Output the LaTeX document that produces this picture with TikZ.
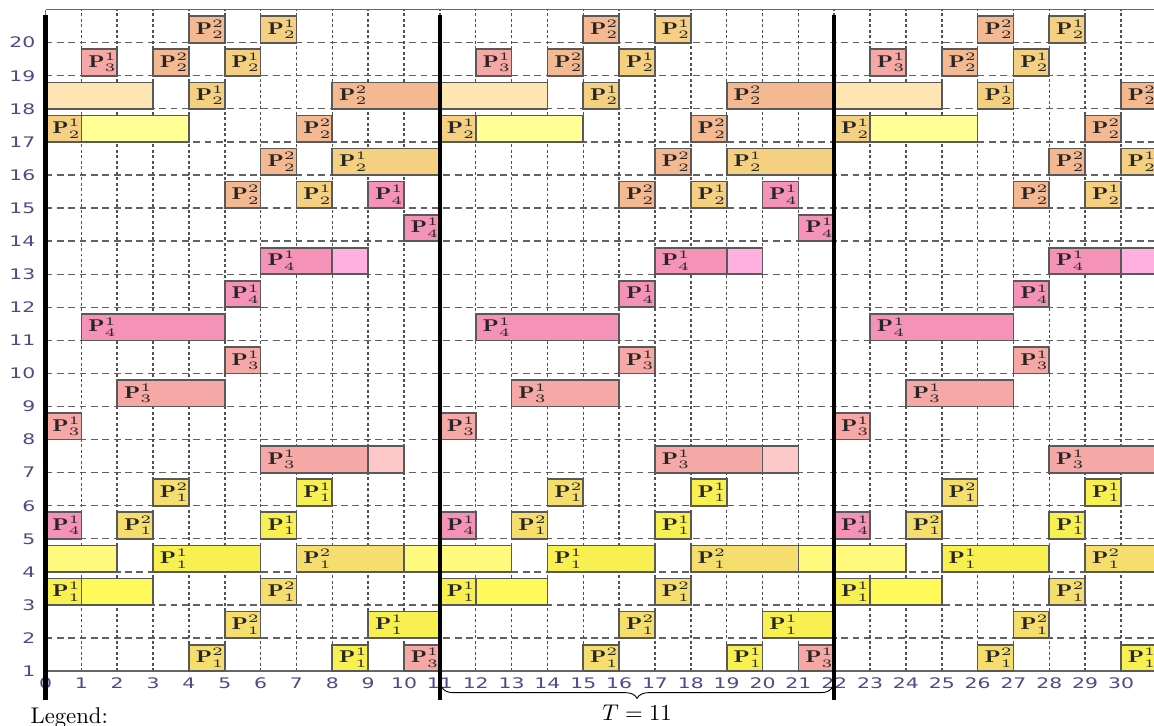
\documentclass[tikz,border=0pt]{standalone}
\usepackage{amsmath}
\usepackage{amssymb}
\usepackage{graphicx}
\usepackage{fontspec}
\newfontfamily\axisfont[FakeStretch=1.4]{DejaVu Sans}
\usetikzlibrary{decorations.pathreplacing}

% task colours (P_i^j) and their lighter carry-over parts
\definecolor{pAone}{RGB}{248,240,80}
\definecolor{pAtwo}{RGB}{245,222,110}
\definecolor{lAone}{RGB}{255,250,90}
\definecolor{lAtwo}{RGB}{255,250,125}
\definecolor{pBone}{RGB}{245,208,128}
\definecolor{pBtwo}{RGB}{245,185,145}
\definecolor{lBone}{RGB}{255,255,150}
\definecolor{lBtwo}{RGB}{255,228,180}
\definecolor{pC}{RGB}{245,168,165}
\definecolor{lC}{RGB}{255,200,200}
\definecolor{pD}{RGB}{245,146,184}
\definecolor{lD}{RGB}{255,176,224}
\definecolor{axisblue}{RGB}{75,75,135}

\begin{document}
\begin{tikzpicture}[x=15.77pt, y=14.55pt,
    task/.style={draw=black!65, line width=0.75pt},
    tasklabel/.style={inner sep=0pt, anchor=west, text=black!85,
        font=\fontsize{7.5}{8}\selectfont},
    hgrid/.style={black!62, line width=0.6pt, dash pattern=on 3pt off 2pt},
    vgrid/.style={black!68, line width=0.65pt, dash pattern=on 1.3pt off 1.1pt},
    frameline/.style={black!60, line width=0.65pt},
    periodline/.style={line width=1.8pt},
    axislabel/.style={inner sep=0pt, text=axisblue,
        font=\axisfont\fontsize{6.4}{7}\selectfont}]

    \useasboundingbox (-1.27,-0.633) rectangle (30.92,21.29);

    \begin{scope}
    \clip (-1.27,-0.633) rectangle (30.92,21.29);

    % Draw the grid
    \foreach \y in {2,...,20}
        \draw[hgrid] (0,\y) -- (31.5,\y);
    \foreach \x in {1,...,31}
        \draw[vgrid] (\x,1) -- (\x,21);
    \draw[frameline] (0,1) -- (31.5,1);
    \draw[frameline] (0,21) -- (31.5,21);
    \draw[frameline] (0,1) -- (0,21);

    % Draw the tasks, one period of 11 repeated three times
    % (start/end/row/colour/superscript/subscript, 0 = no label)
    \foreach \o in {0,11,22} {
        \foreach \a/\b/\r/\c/\tsup/\tsub in {
            4/5/20/pBtwo/2/2, 6/7/20/pBone/1/2,
            1/2/19/pC/1/3, 3/4/19/pBtwo/2/2, 5/6/19/pBone/1/2,
            0/3/18/lBtwo/0/0, 4/5/18/pBone/1/2, 8/11/18/pBtwo/2/2,
            0/1/17/pBone/1/2, 1/4/17/lBone/0/0, 7/8/17/pBtwo/2/2,
            6/7/16/pBtwo/2/2, 8/11/16/pBone/1/2,
            5/6/15/pBtwo/2/2, 7/8/15/pBone/1/2, 9/10/15/pD/1/4,
            10/11/14/pD/1/4,
            6/8/13/pD/1/4, 8/9/13/lD/0/0,
            5/6/12/pD/1/4,
            1/5/11/pD/1/4,
            5/6/10/pC/1/3,
            2/5/9/pC/1/3,
            0/1/8/pC/1/3,
            6/9/7/pC/1/3, 9/10/7/lC/0/0,
            3/4/6/pAtwo/2/1, 7/8/6/pAone/1/1,
            0/1/5/pD/1/4, 2/3/5/pAtwo/2/1, 6/7/5/pAone/1/1,
            0/2/4/lAtwo/0/0, 3/6/4/pAone/1/1, 7/10/4/pAtwo/2/1, 10/11/4/lAtwo/0/0,
            0/1/3/pAone/1/1, 1/3/3/lAone/0/0, 6/7/3/pAtwo/2/1,
            5/6/2/pAtwo/2/1, 9/11/2/pAone/1/1,
            4/5/1/pAtwo/2/1, 8/9/1/pAone/1/1, 10/11/1/pC/1/3} {
            \draw[task, fill=\c] (\a+\o,\r) rectangle (\b+\o,\r+0.8);
            \ifnum\tsup>0
                \node[tasklabel] (t-\o-\a-\r) at (\a+\o+0.18,\r+0.4)
                    {\scalebox{1.4}[1]{$\mathbf{P}^{\tsup}_{\tsub}$}};
            \fi
        }
    }

    % Axis numbers
    \foreach \x in {0,...,30}
        \node[axislabel] (x\x) at (\x,0.64) {\x};
    \foreach \y in {1,...,20}
        \node[axislabel, anchor=east] (y\y) at (-0.27,\y) {\y};

    % Period boundaries
    \foreach \x in {0,11,22}
        \draw[periodline] (\x,0.12) -- (\x,20.84);
    \end{scope}

    % Brace for one period
    \coordinate (braceL) at (11.05,0.52);
    \coordinate (braceR) at (21.95,0.52);
    \draw[decorate, decoration={brace, mirror, amplitude=5pt}] (braceL) -- (braceR);
    \node[anchor=base, inner sep=0pt] (period) at (16.5,-0.5) {$T = 11$};

    \node[anchor=base west, inner sep=0pt] (legend) at (-0.43,-0.57) {Legend:};

\end{tikzpicture}
\end{document}
